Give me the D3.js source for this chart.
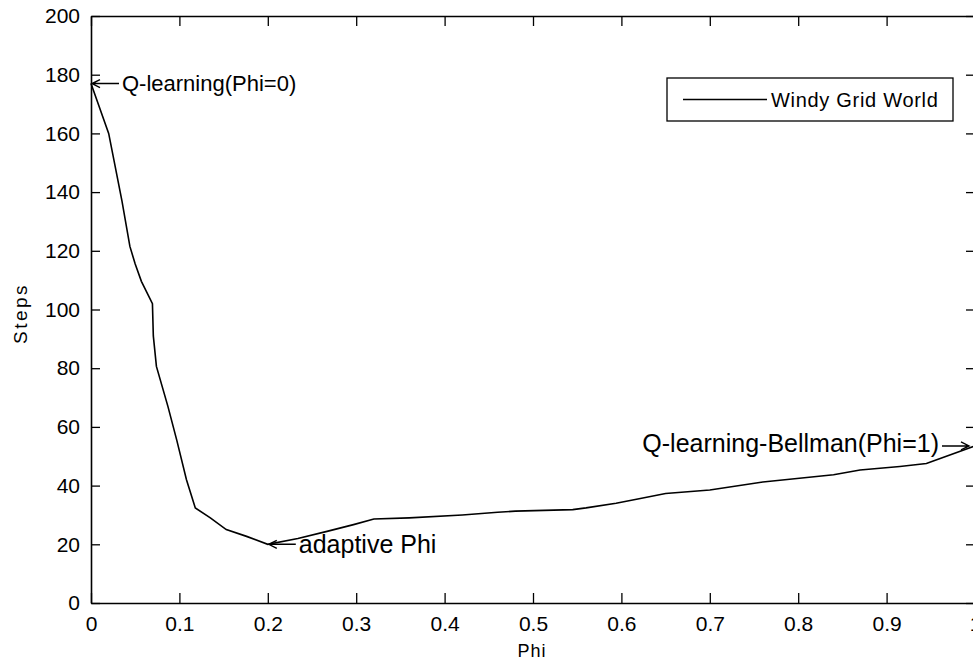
<html>
<head>
<meta charset="utf-8">
<style>
  body { margin: 0; background: #fff; }
  svg text { font-family: Arial, "Liberation Sans", sans-serif; fill: #000; }
</style>
</head>
<body>
<div id="chart"></div>
<script src="https://cdnjs.cloudflare.com/ajax/libs/d3/7.8.5/d3.min.js"></script>
<script>
  "use strict";
  // values: Phi against number of steps
  var phi   = [0, 0.02, 0.035, 0.044, 0.05, 0.057, 0.0695, 0.0705, 0.074, 0.087, 0.097, 0.108, 0.118,
               0.135, 0.153, 0.176, 0.2, 0.234, 0.267, 0.297, 0.32, 0.36, 0.42, 0.46, 0.48, 0.545,
               0.56, 0.594, 0.62, 0.65, 0.7, 0.76, 0.84, 0.87, 0.915, 0.945, 1];
  var steps = [177, 160, 137, 121.5, 115.5, 109.6, 102, 91, 80.6, 67, 55.5, 42, 32.4,
               29, 25, 22.7, 20, 22, 24.4, 26.7, 28.6, 29, 30, 30.9, 31.3, 31.8,
               32.4, 34, 35.5, 37.3, 38.5, 41.2, 43.7, 45.3, 46.5, 47.5, 53.5];
  var seriesName = "Windy Grid World";
  var xTicks = [0, 0.1, 0.2, 0.3, 0.4, 0.5, 0.6, 0.7, 0.8, 0.9, 1];
  var yTicks = [0, 20, 40, 60, 80, 100, 120, 140, 160, 180, 200];
  // annotations: point, text, side of the arrow
  var notes = [
    { x: 0,   y: 177,  text: "Q-learning(Phi=0)",         side: "left" },
    { x: 0.2, y: 20,   text: "adaptive Phi",              side: "left" },
    { x: 1,   y: 53.5, text: "Q-learning-Bellman(Phi=1)", side: "right" }
  ];

  var width = 973, height = 667;
  var svg = d3.select("#chart").append("svg")
    .attr("width", width).attr("height", height);

  // axes box (right edge falls just outside the window, like the original)
  var boxLeft = 91, boxRight = 975, boxTop = 16, boxBottom = 603;
  var x = d3.scaleLinear().domain([0, 1]).range([boxLeft, boxRight]);
  var y = d3.scaleLinear().domain([0, 200]).range([boxBottom, boxTop]);

  var fmt = function (d) { return String(+d.toFixed(1)); };

  // bottom and left axes with inward ticks
  svg.append("g").attr("transform", "translate(0," + boxBottom + ")")
    .call(d3.axisBottom(x).tickValues(xTicks).tickSizeInner(-10).tickSizeOuter(0).tickPadding(13).tickFormat(fmt));
  svg.append("g").attr("transform", "translate(" + boxLeft + ",0)")
    .call(d3.axisLeft(y).tickValues(yTicks).tickSizeInner(-9).tickSizeOuter(0).tickPadding(11));
  // top and right axes, ticks only
  svg.append("g").attr("transform", "translate(0," + boxTop + ")")
    .call(d3.axisTop(x).tickValues(xTicks).tickSizeInner(-10).tickSizeOuter(0).tickFormat(""));
  svg.append("g").attr("transform", "translate(" + boxRight + ",0)")
    .call(d3.axisRight(y).tickValues(yTicks).tickSizeInner(-9).tickSizeOuter(0).tickFormat(""));

  svg.selectAll(".domain").attr("stroke", "#000").attr("stroke-width", 1.6);
  svg.selectAll(".tick line").attr("stroke", "#000").attr("stroke-width", 1.3);
  svg.selectAll(".tick text").attr("font-size", 21).attr("font-family", "Arial, 'Liberation Sans', sans-serif").attr("fill", "#000");

  // the curve
  var pts = phi.map(function (p, i) { return [p, steps[i]]; });
  svg.append("path")
    .datum(pts)
    .attr("fill", "none")
    .attr("stroke", "#000")
    .attr("stroke-width", 1.6)
    .attr("d", d3.line().x(function (d) { return x(d[0]); }).y(function (d) { return y(d[1]); }));

  // axis titles
  svg.append("text").attr("x", (boxLeft + boxRight) / 2 - 1).attr("y", 657)
    .attr("text-anchor", "middle").attr("font-size", 18).attr("letter-spacing", 1).text("Phi");
  svg.append("text").attr("transform", "translate(27," + ((boxTop + boxBottom) / 2 + 4) + ") rotate(-90)")
    .attr("text-anchor", "middle").attr("font-size", 19).attr("letter-spacing", 2.5).text("Steps");

  // annotations: a long arrow (like the TeX \leftarrow) plus the label
  var arrowLen = 27, gap = 3;
  var noteSize = [22, 25, 25];
  var note = svg.selectAll("g.note")
    .data(notes)
    .enter()
    .append("g")
    .attr("class", "note")
    .attr("transform", function (d) {
      var tipX = d.side === "left" ? x(d.x) + 1 : x(d.x) - 6;
      return "translate(" + tipX + "," + y(d.y) + ")";
    });

  note.append("path")
    .attr("fill", "none")
    .attr("stroke", "#000")
    .attr("stroke-width", 1.4)
    .attr("d", function (d) {
      var s = d.side === "left" ? 1 : -1;
      return "M0,0 L" + (s * arrowLen) + ",0 M" + (s * 8) + ",-4 L0,0 L" + (s * 8) + ",4";
    });

  note.append("text")
    .attr("x", function (d) { return d.side === "left" ? arrowLen + gap : -(arrowLen + gap); })
    .attr("y", function (d) { return d.side === "left" ? 0 : -3; })
    .attr("dy", "0.35em")
    .attr("font-size", function (d, i) { return noteSize[i]; })
    .attr("text-anchor", function (d) { return d.side === "left" ? "start" : "end"; })
    .text(function (d) { return d.text; });

  // legend
  var leg = svg.append("g").attr("transform", "translate(667,78)");
  leg.append("rect").attr("width", 286).attr("height", 43)
    .attr("fill", "#fff").attr("stroke", "#000").attr("stroke-width", 1.3);
  leg.append("line").attr("x1", 16).attr("x2", 100).attr("y1", 21.5).attr("y2", 21.5)
    .attr("stroke", "#000").attr("stroke-width", 1.6);
  leg.append("text").attr("x", 104).attr("y", 21.5).attr("dy", "0.35em")
    .attr("font-size", 20).attr("letter-spacing", 0.7).text(seriesName);
</script>
</body>
</html>
